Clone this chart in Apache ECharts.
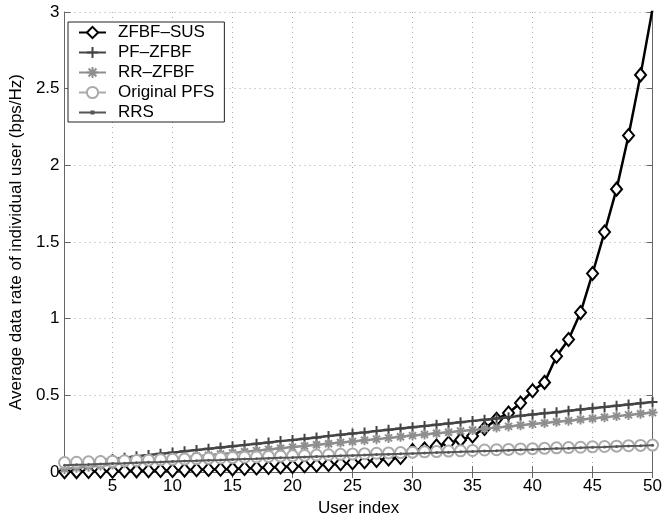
<!DOCTYPE html>
<html>
<head>
<meta charset="utf-8">
<script src="https://cdn.jsdelivr.net/npm/echarts@6/dist/echarts.min.js"></script>
<style>html,body{margin:0;padding:0;background:#fff;}#c{width:665px;height:522px;}</style>
</head>
<body>
<div id="c"></div>
<script>
const userIndex = [1,2,3,4,5,6,7,8,9,10,11,12,13,14,15,16,17,18,19,20,21,22,23,24,25,26,27,28,29,30,31,32,33,34,35,36,37,38,39,40,41,42,43,44,45,46,47,48,49,50];
const xTicks = [5,10,15,20,25,30,35,40,45,50];
const seriesNames = ['ZFBF\u2013SUS','PF\u2013ZFBF','RR\u2013ZFBF','Original PFS','RRS'];
const zfbfSus = [0.002,0.003,0.004,0.005,0.006,0.007,0.008,0.009,0.010,0.011,0.013,0.015,0.017,0.019,0.021,0.024,0.027,0.030,0.033,0.037,0.041,0.045,0.050,0.055,0.061,0.068,0.076,0.085,0.095,0.140,0.150,0.170,0.190,0.210,0.235,0.285,0.345,0.385,0.450,0.530,0.585,0.755,0.865,1.040,1.295,1.565,1.845,2.195,2.590,3.020];
const pfZfbf = [0.053,0.061,0.070,0.078,0.086,0.094,0.103,0.111,0.119,0.127,0.136,0.144,0.152,0.160,0.169,0.177,0.185,0.193,0.202,0.210,0.218,0.226,0.235,0.243,0.251,0.259,0.268,0.276,0.284,0.292,0.301,0.309,0.317,0.325,0.334,0.342,0.350,0.358,0.367,0.375,0.383,0.391,0.400,0.408,0.416,0.424,0.433,0.441,0.449,0.457];
const rrZfbf = [0.020,0.028,0.035,0.043,0.050,0.058,0.065,0.073,0.080,0.088,0.095,0.103,0.110,0.118,0.125,0.133,0.140,0.148,0.155,0.163,0.170,0.178,0.185,0.193,0.200,0.208,0.215,0.223,0.230,0.238,0.245,0.253,0.260,0.268,0.275,0.283,0.290,0.298,0.305,0.313,0.320,0.328,0.335,0.343,0.350,0.358,0.365,0.373,0.380,0.388];
const originalPfs = [0.062,0.064,0.067,0.069,0.071,0.074,0.076,0.078,0.081,0.083,0.085,0.088,0.090,0.092,0.095,0.097,0.099,0.102,0.104,0.106,0.109,0.111,0.113,0.116,0.118,0.120,0.123,0.125,0.127,0.130,0.132,0.134,0.137,0.139,0.141,0.144,0.146,0.148,0.151,0.153,0.155,0.158,0.160,0.162,0.165,0.167,0.169,0.172,0.174,0.176];
const rrs = [0.045,0.048,0.050,0.053,0.056,0.058,0.061,0.064,0.066,0.069,0.072,0.074,0.077,0.079,0.082,0.085,0.087,0.090,0.093,0.095,0.098,0.101,0.103,0.106,0.109,0.111,0.114,0.117,0.119,0.122,0.125,0.127,0.130,0.132,0.135,0.138,0.140,0.143,0.146,0.148,0.151,0.154,0.156,0.159,0.162,0.164,0.167,0.170,0.172,0.175];

const pairs = v => userIndex.map((x, i) => [x, v[i]]);
const FONT = 'Liberation Sans, Arial, Helvetica, sans-serif';
const axisCol = '#666';
const gridLine = {show: true, lineStyle: {color: '#aaa', type: [1, 4], width: 1}};

const chart = echarts.init(document.getElementById('c'), null, {renderer: 'canvas'});
chart.setOption({
  animation: false,
  backgroundColor: '#fff',
  textStyle: {fontFamily: FONT},
  grid: {left: 60, right: 11, top: 12, bottom: 40, containLabel: false},
  legend: {
    orient: 'vertical', left: 68, top: 22,
    padding: [2, 10, 1, 10],
    itemWidth: 27, itemHeight: 14, itemGap: 3,
    borderColor: '#222', borderWidth: 1, backgroundColor: '#fff',
    textStyle: {fontSize: 17, color: '#000', fontFamily: FONT, padding: [0, 0, 0, 7], lineHeight: 17},
    data: [
      seriesNames[0], seriesNames[1], seriesNames[2], seriesNames[3],
      {name: seriesNames[4], icon: 'path://M0,6L27,6L27,8L0,8Z M11.5,5L15.5,5L15.5,9L11.5,9Z'}
    ]
  },
  xAxis: [{
    type: 'value', position: 'bottom', min: 1, max: 50,
    name: 'User index', nameLocation: 'middle', nameGap: 24,
    nameTextStyle: {fontSize: 17, color: '#000', fontFamily: FONT},
    axisLine: {show: true, lineStyle: {color: axisCol, width: 1}},
    axisTick: {show: true, inside: true, length: 6, customValues: xTicks, lineStyle: {color: axisCol}},
    axisLabel: {fontSize: 17, color: '#000', margin: 6, customValues: xTicks, fontFamily: FONT},
    splitLine: gridLine
  }, {
    type: 'value', position: 'top', min: 1, max: 50,
    axisLine: {show: true, lineStyle: {color: axisCol, width: 1}},
    axisTick: {show: true, inside: true, length: 6, customValues: xTicks, lineStyle: {color: axisCol}},
    axisLabel: {show: false, customValues: xTicks},
    splitLine: {show: false}
  }],
  yAxis: [{
    type: 'value', position: 'left', min: 0, max: 3, interval: 0.5,
    name: 'Average data rate of individual user (bps/Hz)', nameLocation: 'middle', nameGap: 39, nameRotate: 90,
    nameTextStyle: {fontSize: 17, color: '#000', fontFamily: FONT},
    axisLine: {show: true, lineStyle: {color: axisCol, width: 1}},
    axisTick: {show: true, inside: true, length: 6, lineStyle: {color: axisCol}},
    axisLabel: {fontSize: 17, color: '#000', margin: 5, fontFamily: FONT},
    splitLine: gridLine
  }, {
    type: 'value', position: 'right', min: 0, max: 3, interval: 0.5,
    axisLine: {show: true, lineStyle: {color: axisCol, width: 1}},
    axisTick: {show: true, inside: true, length: 6, lineStyle: {color: axisCol}},
    axisLabel: {show: false},
    splitLine: {show: false}
  }],
  series: [
    {
      name: seriesNames[0], type: 'line', data: pairs(zfbfSus), showAllSymbol: true, clip: true,
      symbol: 'emptyDiamond', symbolSize: [11, 13],
      lineStyle: {color: '#000', width: 2.5},
      itemStyle: {color: '#000', borderColor: '#000', borderWidth: 2}, z: 2
    },
    {
      name: seriesNames[1], type: 'line', data: pairs(pfZfbf), showAllSymbol: true,
      symbol: 'path://M0,5L10,5M5,0L5,10', symbolSize: 10,
      lineStyle: {color: '#444', width: 2.5},
      itemStyle: {color: '#444', borderColor: '#444', borderWidth: 2}, z: 3
    },
    {
      name: seriesNames[2], type: 'line', data: pairs(rrZfbf), showAllSymbol: true,
      symbol: 'path://M0,5L10,5M5,0L5,10M1.5,1.5L8.5,8.5M8.5,1.5L1.5,8.5', symbolSize: 10,
      lineStyle: {color: '#8e8e8e', width: 2.5},
      itemStyle: {color: '#8e8e8e', borderColor: '#8e8e8e', borderWidth: 2}, z: 4
    },
    {
      name: seriesNames[3], type: 'line', data: pairs(originalPfs), showAllSymbol: true,
      symbol: 'emptyCircle', symbolSize: 11,
      lineStyle: {color: '#aaa', width: 2},
      itemStyle: {color: '#aaa', borderColor: '#aaa', borderWidth: 2}, z: 5
    },
    {
      name: seriesNames[4], type: 'line', data: pairs(rrs), showAllSymbol: true,
      symbol: 'circle', symbolSize: 3,
      lineStyle: {color: '#555', width: 2},
      itemStyle: {color: '#555'}, z: 6
    }
  ]
});
</script>
</body>
</html>
